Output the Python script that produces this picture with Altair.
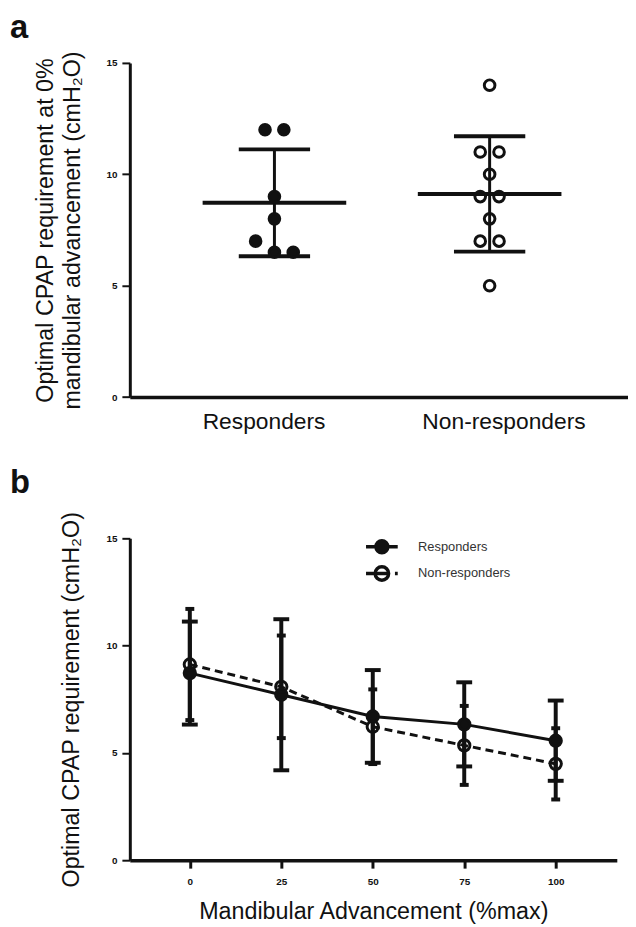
import altair as alt
import pandas as pd

# ---------------- data ----------------
groups = ["Responders", "Non-responders"]

# panel a: individual values and their dot-plot slot (left/right of the centre line)
resp_values = [12, 12, 9, 8, 7, 6.5, 6.5]
resp_slots = [-1, 1, 0, 0, -2, 0, 2]
nonresp_values = [14, 11, 11, 10, 9, 9, 8, 7, 7, 5]
nonresp_slots = [0, -1, 1, 0, -1, 1, 0, -1, 1, 0]
group_means = [8.72, 9.12]
group_sds = [2.40, 2.59]

# panel b: mean +/- SD at each advancement level
advancement = [0, 25, 50, 75, 100]
resp_mean = [8.72, 7.71, 6.70, 6.33, 5.57]
resp_sd = [2.40, 3.52, 2.16, 1.96, 1.87]
nonresp_mean = [9.12, 8.08, 6.22, 5.35, 4.49]
nonresp_sd = [2.59, 2.39, 1.74, 1.84, 1.66]

y_ticks = [0, 5, 10, 15]
panel_labels = ["a", "b"]

# ---------------- styling ----------------
FONT = "Liberation Sans, Arial, Helvetica, sans-serif"
INK = "#111111"
SPREAD = 0.0437
WA, HA = 503, 337.4
WB, HB = 491.7, 325

pts = pd.DataFrame({
    "group": [1] * len(resp_values) + [2] * len(nonresp_values),
    "series": [groups[0]] * len(resp_values) + [groups[1]] * len(nonresp_values),
    "value": resp_values + nonresp_values,
    "slot": resp_slots + nonresp_slots,
})
stats = pd.DataFrame({"group": [1, 2], "series": groups, "mean": group_means, "sd": group_sds})
stats["lo"] = stats["mean"] - stats["sd"]
stats["hi"] = stats["mean"] + stats["sd"]

dfb = pd.DataFrame({
    "adv": advancement * 2,
    "series": [groups[0]] * 5 + [groups[1]] * 5,
    "mean": resp_mean + nonresp_mean,
    "sd": resp_sd + nonresp_sd,
})
dfb["lo"] = dfb["mean"] - dfb["sd"]
dfb["hi"] = dfb["mean"] + dfb["sd"]

is_r = alt.datum.series == groups[0]
is_n = alt.datum.series == groups[1]
fill_cond = alt.when(is_r).then(alt.value(INK)).otherwise(alt.value("transparent"))


def y_axis(title, tx, h):
    return alt.Axis(values=y_ticks, grid=False, domainColor=INK, domainWidth=3,
                    tickColor=INK, tickWidth=2, tickSize=8, labelFont=FONT,
                    labelFontWeight="bold", labelFontSize=10, labelPadding=5, labelColor=INK,
                    title=title, titleFont=FONT, titleFontSize=23.5, titleFontWeight="normal",
                    titleColor=INK, titleX=tx, titleY=h / 2, titleBaseline="alphabetic",
                    titleLineHeight=27, titleAlign="center", titleAngle=270)


yscale = alt.Scale(domain=[0, 15], nice=False, zero=True)

# ---------------- panel a ----------------
ax_ya = y_axis(["Optimal CPAP requirement at 0%", "mandibular advancement (cmH₂O)"], -78, HA)
xscale_a = alt.Scale(domain=[0.328, 2.643], nice=False, zero=False)
ax_xa = alt.Axis(values=[1, 2], grid=False, ticks=False, tickSize=0, domainColor=INK, domainWidth=3.5,
                 labelExpr=f"datum.value == 1 ? '{groups[0]}' : '{groups[1]}'",
                 labelFont=FONT, labelFontSize=23, labelColor=INK, labelBaseline="alphabetic",
                 labelPadding=31.6, labelFlush=False, labelOverlap=False,
                 labelOffset={"condition": {"test": "datum.value == 1", "value": -11}, "value": 14},
                 title=None)

def xa(field):
    return alt.X(field, type="quantitative", scale=xscale_a, axis=ax_xa)

def ya(field):
    return alt.Y(field, type="quantitative", scale=yscale, axis=ax_ya)

base_s = alt.Chart(stats)
sd_rule = base_s.mark_rule(color=INK, strokeWidth=3).encode(x=xa("group"), y=ya("lo"), y2="hi")
mean_tick = base_s.mark_tick(color=INK, thickness=4, size=145, orient="horizontal", opacity=1).encode(
    x=xa("group"), y=ya("mean"))
cap_tick = base_s.transform_fold(["lo", "hi"], as_=["which", "cap"]).mark_tick(
    color=INK, thickness=4, size=72, orient="horizontal", opacity=1).encode(x=xa("group"), y=ya("cap"))
dots = alt.Chart(pts).transform_calculate(xpos=f"datum.group + datum.slot * {SPREAD}").mark_point(
    shape="circle", stroke=INK, strokeWidth=3, size=115, opacity=1, filled=False).encode(
    x=xa("xpos"), y=ya("value"), fill=fill_cond)
lab_a = alt.Chart(pd.DataFrame({"t": [panel_labels[0]]})).mark_text(
    align="left", baseline="alphabetic", font=FONT, fontSize=33, fontWeight="bold", color=INK).encode(
    x=alt.value(-121), y=alt.value(-25), text="t:N")

panel_a = alt.layer(sd_rule, mean_tick, cap_tick, dots, lab_a).properties(width=WA, height=HA)

# ---------------- panel b ----------------
ax_yb = y_axis("Optimal CPAP requirement (cmH₂O)", -52, HB)
xscale_b = alt.Scale(domain=[-16.4, 116.7], nice=False, zero=False)
ax_xb = alt.Axis(values=advancement, grid=False, domainColor=INK, domainWidth=3.5, tickColor=INK,
                 tickWidth=3, tickSize=8, labelFont=FONT, labelFontWeight="bold", labelFontSize=10,
                 labelColor=INK, labelBaseline="middle", labelPadding=13.7, labelFlush=False,
                 title="Mandibular Advancement (%max)", titleFont=FONT, titleFontSize=23.5,
                 titleFontWeight="normal", titleColor=INK, titleX=WB / 2, titleY=59.3,
                 titleBaseline="alphabetic")

def xb(field):
    return alt.X(field, type="quantitative", scale=xscale_b, axis=ax_xb)

def yb(field):
    return alt.Y(field, type="quantitative", scale=yscale, axis=ax_yb)

# legend glyphs: line + filled disc (concentric rings) / dash + open circle + dot
def ring(r):
    return f"M{r},0A{r},{r},0,1,1,{-r},0A{r},{r},0,1,1,{r},0"

R_PATH = "M-2,0L2,0" + ring(0.75) + ring(0.45) + ring(0.15)
N_PATH = "M-2,0L0.85,0" + ring(0.85) + "M1.65,0L2.0,0"

leg = alt.Legend(title=None, orient="none", legendX=244.5, legendY=-1.5, symbolSize=256,
                 symbolStrokeColor=INK, symbolStrokeWidth=3.5, symbolOpacity=1,
                 symbolFillColor="transparent",
                 labelFont=FONT, labelFontSize=13, labelColor="#333333", labelOffset=26.5,
                 rowPadding=0, padding=0)

base_b = alt.Chart(dfb)
err_rule = base_b.mark_rule(color=INK, strokeWidth=4).encode(x=xb("adv"), y=yb("lo"), y2="hi")
caps_r = base_b.transform_filter(is_r).transform_fold(["lo", "hi"], as_=["which", "cap"]).mark_tick(
    color=INK, thickness=4, size=16, orient="horizontal", opacity=1).encode(x=xb("adv"), y=yb("cap"))
caps_n = base_b.transform_filter(is_n).transform_fold(["lo", "hi"], as_=["which", "cap"]).mark_tick(
    color=INK, thickness=4, size=9, orient="horizontal", opacity=1).encode(x=xb("adv"), y=yb("cap"))
line_r = base_b.transform_filter(is_r).mark_line(color=INK, strokeWidth=3).encode(
    x=xb("adv"), y=yb("mean"))
line_n = base_b.transform_filter(is_n).mark_line(color=INK, strokeWidth=3, strokeDash=[8, 5]).encode(
    x=xb("adv"), y=yb("mean"))
marks_b = base_b.mark_point(shape="circle", stroke=INK, strokeWidth=3, size=130, opacity=1,
                            filled=False).encode(x=xb("adv"), y=yb("mean"), fill=fill_cond)
legend_layer = base_b.mark_point(stroke=INK, strokeWidth=3.5, opacity=0, filled=False).encode(
    x=xb("adv"), y=yb("mean"),
    shape=alt.Shape("series:N", scale=alt.Scale(domain=groups, range=[R_PATH, N_PATH]), legend=leg))
lab_b = alt.Chart(pd.DataFrame({"t": [panel_labels[1]]})).mark_text(
    align="left", baseline="alphabetic", font=FONT, fontSize=33, fontWeight="bold", color=INK).encode(
    x=alt.value(-121), y=alt.value(-45.7), text="t:N")

panel_b = alt.layer(err_rule, caps_r, caps_n, line_r, line_n, marks_b, legend_layer, lab_b).properties(
    width=WB, height=HB)

chart = alt.vconcat(panel_a, panel_b, spacing=34).resolve_scale(shape="independent").properties(
    padding={"left": 2, "top": 0, "right": 0, "bottom": 0}, background="white"
).configure_view(stroke=None)

chart.save("out.html", embed_options={"renderer": "svg", "actions": False})
